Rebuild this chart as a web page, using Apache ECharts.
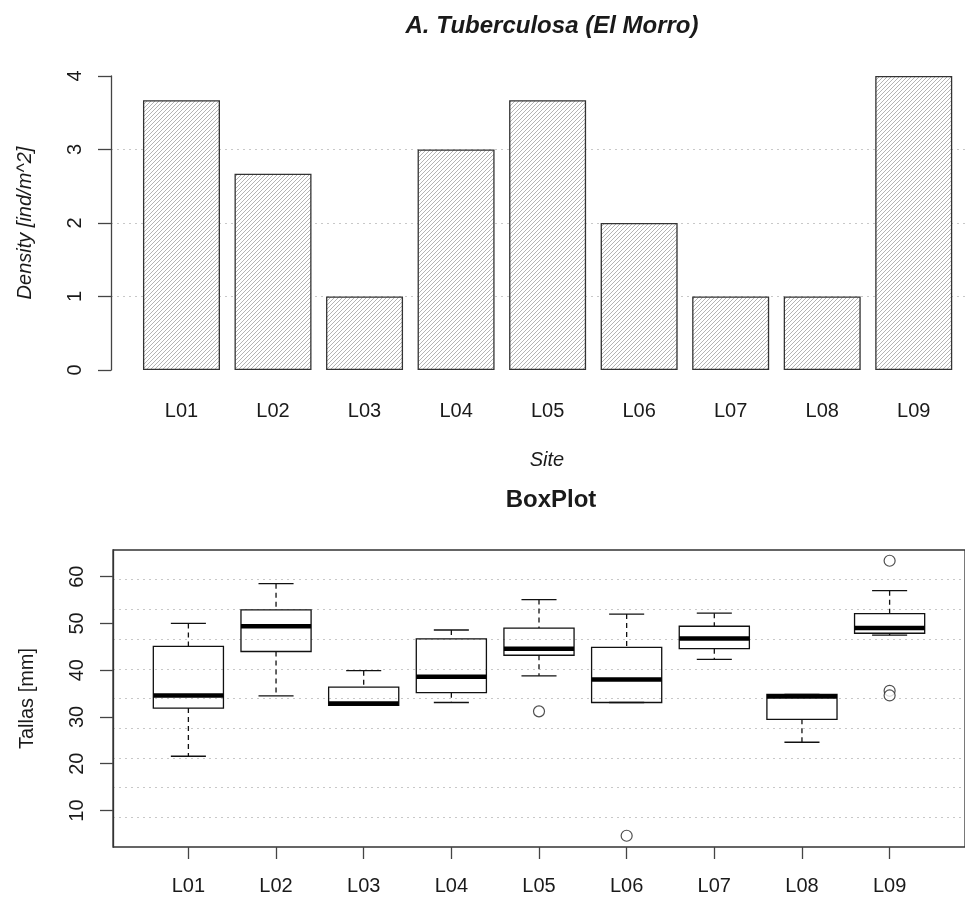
<!DOCTYPE html>
<html>
<head>
<meta charset="utf-8">
<style>
  html, body { margin: 0; padding: 0; background: #fff; }
  #chart { width: 965px; height: 908px; }
</style>
</head>
<body>
<div id="chart"></div>
<script src="https://cdn.jsdelivr.net/npm/echarts@6/dist/echarts.min.js"></script>
<script>
// top panel: density per site
var sites = ['L01', 'L02', 'L03', 'L04', 'L05', 'L06', 'L07', 'L08', 'L09'];
var density = [3.67, 2.67, 1, 3, 3.67, 2, 1, 1, 4];

// bottom panel: boxplot of sizes (whisker low, Q1, median, Q3, whisker high)
var boxLow    = [21.6, 34.5, 32.5, 33.1, 38.8, 33.1, 42.3, 24.6, 47.5];
var boxQ1     = [31.9, 44.0, 32.5, 35.2, 43.2, 33.1, 44.6, 29.5, 47.9];
var boxMedian = [34.6, 49.4, 32.9, 38.6, 44.6, 38.0, 46.8, 34.4, 49.0];
var boxQ3     = [45.1, 52.9, 36.4, 46.7, 49.0, 44.9, 49.4, 34.8, 52.1];
var boxHigh   = [50.0, 58.5, 39.9, 48.6, 55.1, 52.0, 52.2, 34.8, 57.0];
var outlierSite  = ['L05', 'L06', 'L09', 'L09', 'L09'];
var outlierValue = [31.2, 4.6, 63.4, 35.6, 34.6];
var tallaTicks = [10, 20, 30, 40, 50, 60];

var FONT = 'Liberation Sans, Arial, sans-serif';
var TXT = '#1a1a1a';
var AX = '#444';

function hatchPattern() {
  var c = document.createElement('canvas');
  c.width = 4; c.height = 4;
  var g = c.getContext('2d');
  g.fillStyle = '#fff';
  g.fillRect(0, 0, 4, 4);
  g.strokeStyle = '#b4b4b4';
  g.lineWidth = 1;
  g.beginPath();
  g.moveTo(0, 4); g.lineTo(4, 0);
  g.moveTo(-1, 1); g.lineTo(1, -1);
  g.moveTo(3, 5); g.lineTo(5, 3);
  g.stroke();
  return c;
}

var siteIdx = sites.map(function (s, i) { return i + 1; });
var barData = sites.map(function (s, i) { return [i + 1, density[i]]; });
var boxData = sites.map(function (s, i) {
  return [i + 1, boxLow[i], boxQ1[i], boxMedian[i], boxQ3[i], boxHigh[i]];
});
var outlierData = outlierSite.map(function (s, i) {
  return [sites.indexOf(s) + 1, outlierValue[i]];
});

var chart = echarts.init(document.getElementById('chart'));

var option = {
  backgroundColor: '#fff',
  animation: false,
  textStyle: { fontFamily: FONT, color: TXT },
  title: [
    {
      text: 'A. Tuberculosa (El Morro)',
      left: 547, top: 9, textAlign: 'center',
      textStyle: { fontFamily: FONT, fontSize: 24, fontWeight: 'bold', fontStyle: 'italic', color: TXT }
    },
    {
      text: 'BoxPlot',
      left: 546, top: 483, textAlign: 'center',
      textStyle: { fontFamily: FONT, fontSize: 24, fontWeight: 'bold', color: TXT }
    }
  ],
  grid: [
    { left: 111, right: 0, top: 76, bottom: 538 },
    { left: 113, right: -12, top: 550, bottom: 61, show: true, borderColor: '#333', borderWidth: 1.3, backgroundColor: 'transparent' }
  ],
  xAxis: [
    {
      gridIndex: 0, type: 'value', min: 0.23, max: 9.56,
      axisLine: { show: false }, axisTick: { show: false }, splitLine: { show: false },
      axisLabel: {
        customValues: siteIdx, fontSize: 20, color: TXT, margin: 31,
        formatter: function (v) { return sites[Math.round(v) - 1]; }
      },
      name: 'Site', nameLocation: 'middle', nameGap: 80,
      nameTextStyle: { fontSize: 20, fontStyle: 'italic', color: TXT, padding: [0, 0, 0, 18] }
    },
    {
      gridIndex: 1, type: 'value', min: 0.14, max: 9.86,
      axisLine: { show: false }, splitLine: { show: false },
      axisTick: { show: true, customValues: siteIdx, length: 12, lineStyle: { color: AX, width: 1.3 } },
      axisLabel: {
        customValues: siteIdx, fontSize: 20, color: TXT, margin: 29,
        formatter: function (v) { return sites[Math.round(v) - 1]; }
      }
    }
  ],
  yAxis: [
    {
      gridIndex: 0, type: 'value', min: 0, max: 4, interval: 1,
      axisLine: { show: true, lineStyle: { color: AX, width: 1.3 } },
      axisTick: { show: true, length: 13, lineStyle: { color: AX, width: 1.3 } },
      axisLabel: { rotate: 90, fontSize: 20, color: TXT, margin: 26 },
      splitLine: { show: true, showMinLine: false, showMaxLine: false, lineStyle: { color: '#c8c8c8', type: [2, 4], width: 1 } },
      name: 'Density [ind/m^2]', nameLocation: 'middle', nameGap: 76,
      nameTextStyle: { fontSize: 20, fontStyle: 'italic', color: TXT }
    },
    {
      gridIndex: 1, type: 'value', min: 2.2, max: 65.7,
      axisLine: { show: true, lineStyle: { color: '#333', width: 1.3 } },
      axisTick: { show: true, customValues: tallaTicks, length: 13, lineStyle: { color: AX, width: 1.3 } },
      axisLabel: { customValues: tallaTicks, rotate: 90, fontSize: 20, color: TXT, margin: 26 },
      splitLine: { show: false },
      name: 'Tallas [mm]', nameLocation: 'middle', nameGap: 76,
      nameTextStyle: { fontSize: 20, color: TXT }
    },
    {
      // ten equal divisions of the plot region for the dotted grid
      gridIndex: 1, type: 'value', min: 0, max: 10, interval: 1, position: 'left',
      axisLine: { show: false }, axisTick: { show: false }, axisLabel: { show: false },
      splitLine: { show: true, showMinLine: false, showMaxLine: false, lineStyle: { color: '#c8c8c8', type: [2, 4], width: 1 } }
    }
  ],
  series: [
    {
      type: 'bar', xAxisIndex: 0, yAxisIndex: 0,
      data: barData, barWidth: 77,
      itemStyle: { color: { image: hatchPattern(), repeat: 'repeat' }, borderColor: '#333', borderWidth: 1.3 }
    },
    {
      type: 'custom', xAxisIndex: 1, yAxisIndex: 1,
      data: boxData,
      encode: { x: 0, y: [1, 2, 3, 4, 5] },
      renderItem: function (params, api) {
        var x = api.value(0);
        var unit = api.size([1, 0])[0];
        var half = unit * 0.4, cap = unit * 0.2;
        var lo = api.coord([x, api.value(1)]);
        var q1 = api.coord([x, api.value(2)]);
        var md = api.coord([x, api.value(3)]);
        var q3 = api.coord([x, api.value(4)]);
        var hi = api.coord([x, api.value(5)]);
        var cx = md[0];
        var solid = { stroke: '#111', lineWidth: 1.3, fill: null };
        var dashed = { stroke: '#111', lineWidth: 1.3, lineDash: [5, 4], fill: null };
        return {
          type: 'group',
          children: [
            { type: 'line', shape: { x1: cx, y1: hi[1], x2: cx, y2: q3[1] }, style: dashed },
            { type: 'line', shape: { x1: cx, y1: q1[1], x2: cx, y2: lo[1] }, style: dashed },
            { type: 'line', shape: { x1: cx - cap, y1: hi[1], x2: cx + cap, y2: hi[1] }, style: solid },
            { type: 'line', shape: { x1: cx - cap, y1: lo[1], x2: cx + cap, y2: lo[1] }, style: solid },
            { type: 'rect', shape: { x: cx - half, y: q3[1], width: half * 2, height: q1[1] - q3[1] }, style: solid },
            { type: 'line', shape: { x1: cx - half, y1: md[1], x2: cx + half, y2: md[1] }, style: { stroke: '#000', lineWidth: 4.5 } }
          ]
        };
      }
    },
    {
      type: 'scatter', xAxisIndex: 1, yAxisIndex: 1,
      data: outlierData, symbol: 'circle', symbolSize: 11,
      itemStyle: { color: '#fff', borderColor: '#222', borderWidth: 1.2 }
    }
  ]
};

chart.setOption(option);
window.addEventListener('resize', function () {
  chart.resize();
});
</script>
</body>
</html>
